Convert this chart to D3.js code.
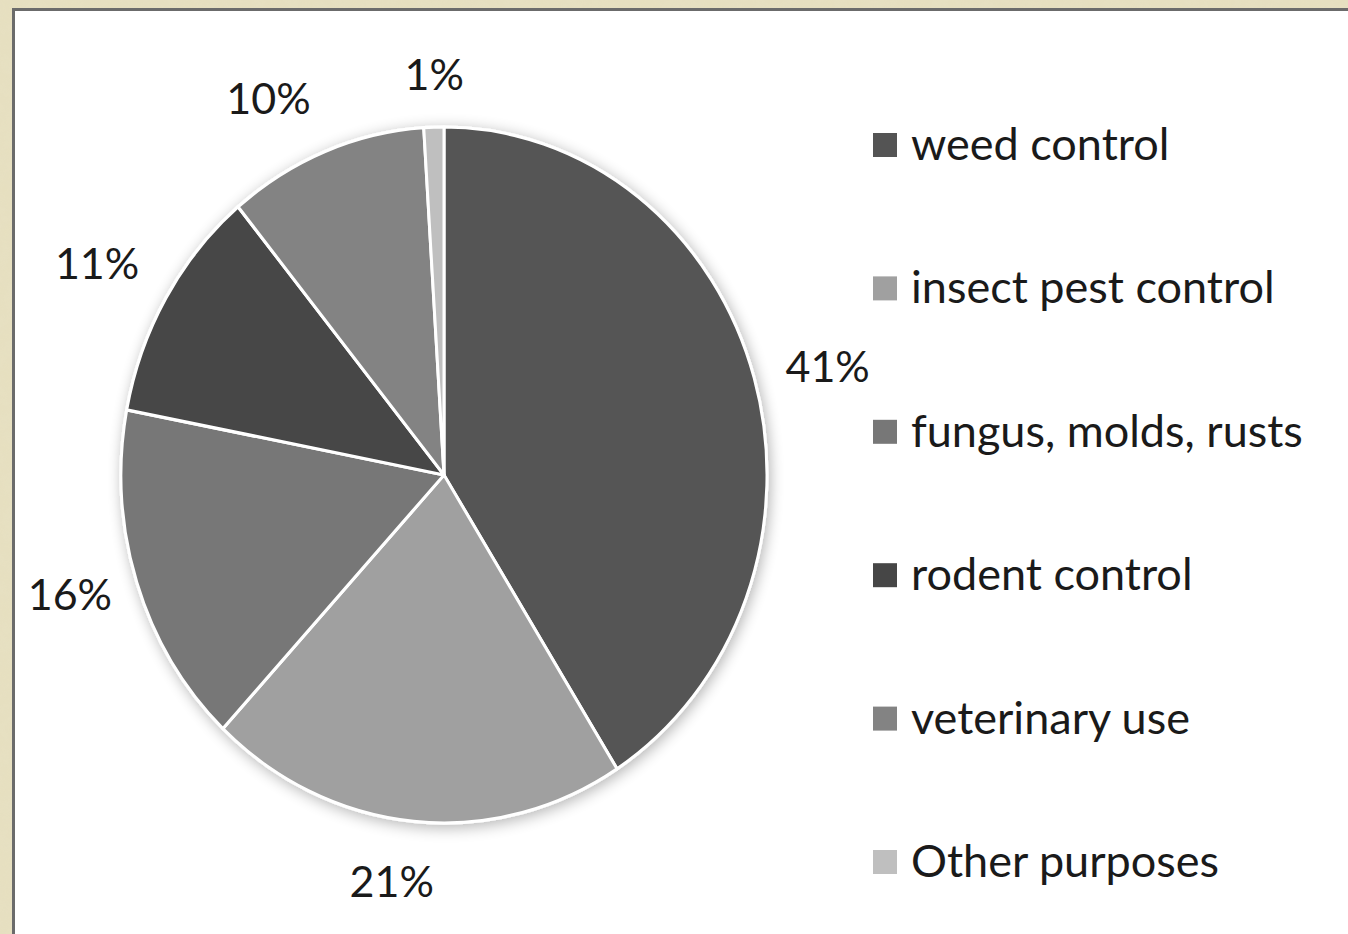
<!DOCTYPE html>
<html>
<head>
<meta charset="utf-8">
<script src="https://cdn.jsdelivr.net/npm/d3@7/dist/d3.min.js"></script>
<style>
  html, body { margin: 0; padding: 0; background: #e4dcbc; }
  svg { display: block; }
</style>
</head>
<body>
<svg id="chart" width="1348" height="934"></svg>
<script>
// Pesticide use by purpose (share of total, %)
const categories = ["weed control", "insect pest control", "fungus, molds, rusts",
                    "rodent control", "veterinary use", "Other purposes"];
const shares = [41, 21, 16, 11, 10, 1];
const shareLabels = ["41%", "21%", "16%", "11%", "10%", "1%"];
const sliceColors = ["#545454", "#a0a0a0", "#777777", "#464646", "#838383", "#bfbfbf"];

const W = 1348, H = 934;
const svg = d3.select("#chart");
const defs = svg.append("defs");

// textured beige backdrop
const noise = defs.append("filter").attr("id", "paper")
  .attr("x", 0).attr("y", 0).attr("width", "100%").attr("height", "100%");
noise.append("feTurbulence").attr("type", "fractalNoise")
  .attr("baseFrequency", 0.06).attr("numOctaves", 3).attr("seed", 4).attr("result", "n");
noise.append("feColorMatrix").attr("in", "n").attr("type", "matrix")
  .attr("values", "0 0 0 0 0.80  0 0 0 0 0.76  0 0 0 0 0.58  0 0 0 0.55 0")
  .attr("result", "tint");
noise.append("feComposite").attr("in", "tint").attr("in2", "SourceGraphic").attr("operator", "in");

svg.append("rect").attr("width", W).attr("height", H).attr("fill", "#e6dfbf");
svg.append("rect").attr("width", W).attr("height", H).attr("fill", "#fff")
  .attr("filter", "url(#paper)").attr("opacity", 0.6);

// white chart panel with dark top/left edge
svg.append("rect").attr("x", 12).attr("y", 8).attr("width", W - 12).attr("height", H - 8)
  .attr("fill", "#6b6b6b");
svg.append("rect").attr("x", 15).attr("y", 11).attr("width", W - 15).attr("height", H - 11)
  .attr("fill", "#ffffff");

// soft shadow around the pie
const shadow = defs.append("filter").attr("id", "pieShadow")
  .attr("x", "-20%").attr("y", "-20%").attr("width", "140%").attr("height", "140%");
shadow.append("feGaussianBlur").attr("in", "SourceAlpha").attr("stdDeviation", 7).attr("result", "b");
shadow.append("feOffset").attr("in", "b").attr("dx", 2).attr("dy", 3).attr("result", "o");
shadow.append("feComponentTransfer").attr("in", "o").attr("result", "s")
  .append("feFuncA").attr("type", "linear").attr("slope", 0.3);
const merge = shadow.append("feMerge");
merge.append("feMergeNode").attr("in", "s");
merge.append("feMergeNode").attr("in", "SourceGraphic");

// the pie is drawn in a circle of radius r and stretched vertically
const cx = 444, cy = 475, r = 323, stretch = 348 / 323;

const pie = d3.pie().sort(null).value(d => d)
  .startAngle(0).endAngle(2 * Math.PI);
const arcs = pie(shares);
const arc = d3.arc().innerRadius(0).outerRadius(r);

const pieG = svg.append("g")
  .attr("transform", `translate(${cx},${cy}) scale(1,${stretch})`)
  .attr("filter", "url(#pieShadow)");

pieG.selectAll("path.slice")
  .data(arcs)
  .join("path")
  .attr("class", "slice")
  .attr("d", arc)
  .attr("fill", (d, i) => sliceColors[i])
  .attr("stroke", "#ffffff")
  .attr("stroke-width", 3)
  .attr("stroke-linejoin", "round");

// percentage labels outside each slice (radial distance and angular nudge per label)
const labelRadius = [r + 74, r + 57, r + 67, r + 76, r + 69, r + 50];
const labelNudgeDeg = [1.3, 2.5, 1.6, -1, -5, 0.3];
const font = "Lato, 'Open Sans', sans-serif";
const labelAngle = (d, i) => (d.startAngle + d.endAngle) / 2 + labelNudgeDeg[i] * Math.PI / 180;
svg.append("g").selectAll("text")
  .data(arcs)
  .join("text")
  .attr("x", (d, i) => cx + Math.sin(labelAngle(d, i)) * labelRadius[i])
  .attr("y", (d, i) => cy - Math.cos(labelAngle(d, i)) * labelRadius[i] * stretch)
  .attr("text-anchor", "middle")
  .attr("dominant-baseline", "central")
  .attr("font-family", font)
  .attr("font-size", 43)
  .attr("fill", "#1a1a1a")
  .text((d, i) => shareLabels[i]);

// legend
const legendY = d3.scalePoint().domain(categories).range([145, 862]);
const legend = svg.append("g").attr("transform", "translate(873,0)");
const rows = legend.selectAll("g").data(categories).join("g")
  .attr("transform", d => `translate(0,${legendY(d)})`);
rows.append("rect")
  .attr("x", 0).attr("y", -12).attr("width", 24).attr("height", 24)
  .attr("fill", (d, i) => sliceColors[i]);
rows.append("text")
  .attr("x", 38).attr("y", -2)
  .attr("dominant-baseline", "central")
  .attr("font-family", font)
  .attr("font-size", 45)
  .attr("fill", "#1a1a1a")
  .text(d => d);
</script>
</body>
</html>
